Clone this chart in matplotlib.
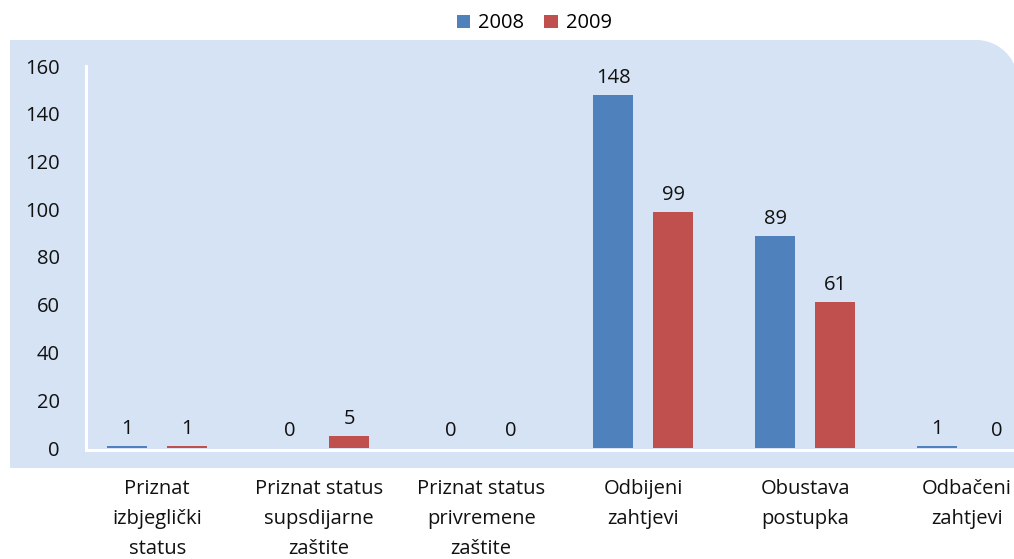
import numpy as np
import matplotlib
matplotlib.use("Agg")
import matplotlib.pyplot as plt
from matplotlib.path import Path
from matplotlib.patches import PathPatch, Patch

plt.rcParams['font.family'] = ['Open Sans', 'DejaVu Sans']

categories = ["Priznat\nizbjeglički\nstatus",
              "Priznat status\nsupsdijarne\nzaštite",
              "Priznat status\nprivremene\nzaštite",
              "Odbijeni\nzahtjevi",
              "Obustava\npostupka",
              "Odbačeni\nzahtjevi"]
series_names = ["2008", "2009"]
values_2008 = [1, 0, 0, 148, 89, 1]
values_2009 = [1, 5, 0, 99, 61, 0]
yticks = [0, 20, 40, 60, 80, 100, 120, 140, 160]

BLUE = "#4F81BD"
RED = "#C0504D"
PANEL = "#D5E3F4"
TXT = "#111111"
FS = 14.5

W, H = 1014, 559
fig = plt.figure(figsize=(W / 100, H / 100), dpi=100)
fig.patch.set_facecolor("white")

# background panel with a rounded top-right corner (pixel geometry)
x0, x1, ytop, ybot, r = 10, 1018, 40, 468, 42
ang = np.linspace(np.pi / 2, 0, 30)
pts = [(x0, ybot), (x0, ytop), (x1 - r, ytop)]
pts += [(x1 - r + r * np.cos(a), ytop + r - r * np.sin(a)) for a in ang]
pts += [(x1, ybot), (x0, ybot)]
pts = [(px / W, 1 - py / H) for px, py in pts]
panel = PathPatch(Path(pts, closed=True), facecolor=PANEL, edgecolor="none",
                  transform=fig.transFigure, zorder=-5)
fig.patches.append(panel)

# plot area in pixels
ax_left, ax_right, ax_top, ax_bottom = 86, 1014, 66, 448
ax = fig.add_axes([ax_left / W, 1 - ax_bottom / H,
                   (ax_right - ax_left) / W, (ax_bottom - ax_top) / H])
ax.set_facecolor("none")
ax.set_zorder(2)

# white axis lines; the baseline sits just under the bars
for s in ("top", "right"):
    ax.spines[s].set_visible(False)
for s in ("left", "bottom"):
    ax.spines[s].set_color("white")
    ax.spines[s].set_linewidth(2.2)
ax.spines["bottom"].set_position(("outward", 1.6))

x = np.arange(len(categories))
bw = 0.247
off = 0.185
b1 = ax.bar(x - off, values_2008, bw, color=BLUE, zorder=2)
b2 = ax.bar(x + off, values_2009, bw, color=RED, zorder=2)
for bars in (b1, b2):
    ax.bar_label(bars, padding=5, fontsize=FS, color=TXT)

ax.set_xlim(-0.44, 5.29)
ax.set_ylim(0, 160)
ax.spines["left"].set_bounds(0, 160)
ax.set_yticks(yticks)
ax.set_xticks(x)
ax.set_xticklabels(categories, fontsize=FS, linespacing=1.66, color=TXT)
ax.tick_params(axis="y", length=0, pad=19, labelsize=FS, labelcolor=TXT)
ax.tick_params(axis="x", length=0, pad=21)

handles = [Patch(facecolor=BLUE), Patch(facecolor=RED)]
fig.legend(handles, series_names, loc="center", bbox_to_anchor=(0.527, 0.958),
           ncol=2, frameon=False, fontsize=FS, handlelength=0.65,
           handleheight=0.65, handletextpad=0.4, columnspacing=1.0)

fig.savefig("out.png", dpi=100)
